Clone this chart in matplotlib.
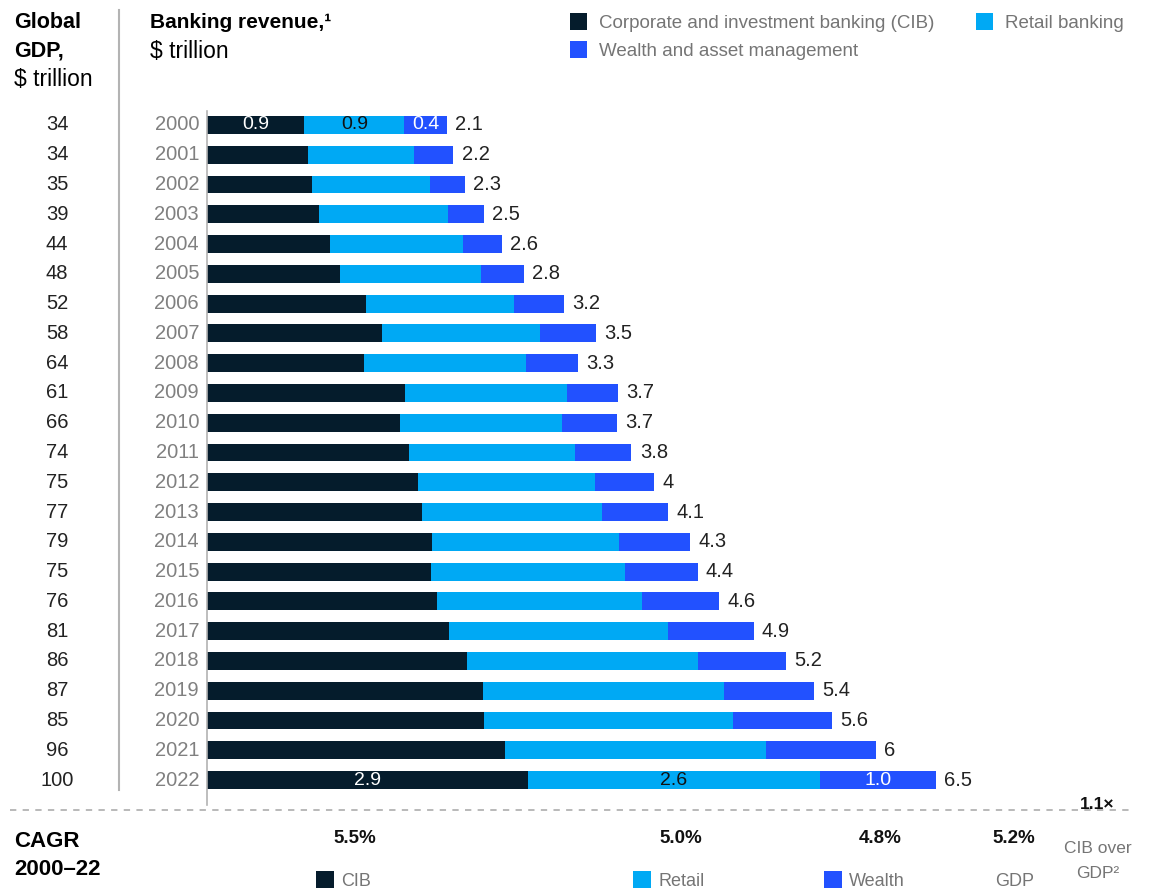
import matplotlib
matplotlib.use("Agg")
import matplotlib.pyplot as plt
from matplotlib.lines import Line2D
from matplotlib.patches import Rectangle
from matplotlib.transforms import blended_transform_factory

plt.rcParams['font.family'] = ['Liberation Sans', 'DejaVu Sans']

# ---- data ($ trillion) ----
years = list(range(2000, 2023))
gdp = [34, 34, 35, 39, 44, 48, 52, 58, 64, 61, 66, 74, 75, 77, 79, 75, 76, 81, 86, 87, 85, 96, 100]
cib = [0.87, 0.90, 0.94, 1.00, 1.10, 1.19, 1.42, 1.56, 1.40, 1.77, 1.72, 1.80,
       1.88, 1.92, 2.01, 2.00, 2.05, 2.16, 2.32, 2.46, 2.47, 2.66, 2.87]
retail = [0.89, 0.95, 1.05, 1.15, 1.19, 1.26, 1.32, 1.41, 1.45, 1.44, 1.45, 1.49,
          1.58, 1.61, 1.67, 1.73, 1.83, 1.96, 2.06, 2.16, 2.23, 2.33, 2.60]
wealth = [0.38, 0.35, 0.31, 0.32, 0.34, 0.38, 0.45, 0.50, 0.46, 0.46, 0.49, 0.50,
          0.53, 0.59, 0.63, 0.65, 0.69, 0.76, 0.79, 0.80, 0.88, 0.98, 1.04]
segment_labeled_years = [2000, 2022]

cagr_labels = ["5.5%", "5.0%", "4.8%", "5.2%"]
cib_over_gdp = "1.1×"

C_CIB = "#051C2C"
C_RET = "#00A9F4"
C_WEA = "#2251FF"
GRAY = "#757575"
YEAR_GRAY = "#808080"
LINE = "#b3b3b3"

W, H = 1150, 888
fig = plt.figure(figsize=(W / 100, H / 100), dpi=100)


def fx(px):
    return px / W


def fy(py):
    return 1 - py / H


# bar panel: value 0 sits at x=207 px, 112 px per $ trillion
x0_px, px_per_unit = 207, 112
top_px, bot_px = 110, 795
ax = fig.add_axes([fx(x0_px), fy(bot_px), (W - x0_px) / W, (bot_px - top_px) / H])
ax.set_xlim(0, (W - x0_px) / px_per_unit)
ax.set_ylim(len(years) - 0.5, -0.5)
ax.axis("off")

ypos = list(range(len(years)))
left_ret = [c for c in cib]
left_wea = [c + r for c, r in zip(cib, retail)]
ax.barh(ypos, cib, height=0.6, color=C_CIB, linewidth=0)
ax.barh(ypos, retail, left=left_ret, height=0.6, color=C_RET, linewidth=0)
ax.barh(ypos, wealth, left=left_wea, height=0.6, color=C_WEA, linewidth=0)
ax.plot([0, 0], [-0.45, len(years) - 0.15], color=LINE, lw=1.2, clip_on=False)


def fmt_total(v):
    s = f"{round(v, 1):.1f}"
    return s[:-2] if s.endswith(".0") else s


for i, (c, r, w) in enumerate(zip(cib, retail, wealth)):
    tot = c + r + w
    ax.annotate(fmt_total(tot), (tot, i), xytext=(6, 0), textcoords="offset points",
                va="center", ha="left", fontsize=14.5, color="#222222")
    if years[i] in segment_labeled_years:
        ax.text(c / 2, i, f"{c:.1f}", ha="center", va="center", fontsize=14, color="white")
        ax.text(c + r / 2, i, f"{r:.1f}", ha="center", va="center", fontsize=14, color="#111111")
        ax.text(c + r + w / 2, i, f"{w:.1f}", ha="center", va="center", fontsize=14, color="white")

# GDP and year columns
tr = blended_transform_factory(fig.transFigure, ax.transData)
for i, (yr, g) in enumerate(zip(years, gdp)):
    ax.text(fx(57), i, str(g), transform=tr, ha="center", va="center",
            fontsize=14.5, color="#222222")
    ax.text(fx(199), i, str(yr), transform=tr, ha="right", va="center",
            fontsize=14.5, color=YEAR_GRAY)

# column headers
fig.text(fx(14), fy(23), "Global", ha="left", va="center", fontsize=15.5, fontweight="bold")
fig.text(fx(14), fy(51), "GDP,", ha="left", va="center", fontsize=15.5, fontweight="bold")
fig.text(fx(14), fy(79), "$ trillion", ha="left", va="center", fontsize=16.5)
fig.text(fx(150), fy(23), "Banking revenue,¹", ha="left", va="center", fontsize=15,
         fontweight="bold")
fig.text(fx(150), fy(51), "$ trillion", ha="left", va="center", fontsize=16.5)

# separator between GDP and revenue columns
fig.add_artist(Line2D([fx(119), fx(119)], [fy(10), fy(790)], color=LINE, lw=1.5))


# legend
def swatch(x, y, color, size=17):
    fig.add_artist(Rectangle((fx(x), fy(y + size / 2)), size / W, size / H,
                             transform=fig.transFigure, color=color, lw=0))


legend_items = [
    (570, 22, C_CIB, "Corporate and investment banking (CIB)"),
    (976, 22, C_RET, "Retail banking"),
    (570, 50, C_WEA, "Wealth and asset management"),
]
for x, y, col, lab in legend_items:
    swatch(x, y, col)
    fig.text(fx(x + 29), fy(y + 1), lab, ha="left", va="center", fontsize=13.5, color=GRAY)

# CAGR footer
fig.add_artist(Line2D([fx(10), fx(1132)], [fy(810), fy(810)], color=LINE, lw=1.3,
                      dashes=(3.5, 3.5)))
fig.text(fx(1114), fy(804), cib_over_gdp, ha="right", va="center", fontsize=12.5,
         fontweight="bold", color="#111111")
fig.text(fx(14), fy(841), "CAGR", ha="left", va="center", fontsize=16, fontweight="bold")
fig.text(fx(14), fy(869), "2000–22", ha="left", va="center", fontsize=16, fontweight="bold")

cagr_x = [355, 681, 880, 1014]
for x, lab in zip(cagr_x, cagr_labels):
    fig.text(fx(x), fy(838), lab, ha="center", va="center", fontsize=13.5,
             fontweight="bold", color="#111111")
fig.text(fx(1098), fy(848), "CIB over", ha="center", va="center", fontsize=12.5, color=GRAY)
fig.text(fx(1098), fy(873), "GDP²", ha="center", va="center", fontsize=12.5, color=GRAY)

footer_legend = [(316, C_CIB, "CIB"), (633, C_RET, "Retail"), (824, C_WEA, "Wealth")]
for x, col, lab in footer_legend:
    fig.add_artist(Rectangle((fx(x), fy(890)), 18 / W, 19 / H,
                             transform=fig.transFigure, color=col, lw=0))
    fig.text(fx(x + 25), fy(881), lab, ha="left", va="center", fontsize=13, color=GRAY)
fig.text(fx(1015), fy(881), "GDP", ha="center", va="center", fontsize=13, color=GRAY)

fig.savefig("out.png", dpi=100, facecolor="white")
